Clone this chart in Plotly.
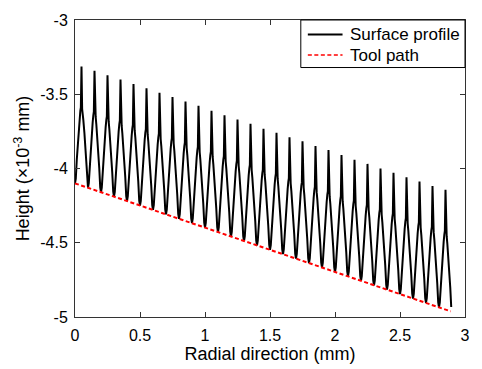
import plotly.graph_objects as go

# ---- data ----
peak_x = [0.05, 0.15, 0.25, 0.35, 0.45, 0.55, 0.65, 0.75, 0.85, 0.95,
          1.05, 1.15, 1.25, 1.35, 1.45, 1.55, 1.65, 1.75, 1.85, 1.95,
          2.05, 2.15, 2.25, 2.35, 2.45, 2.55, 2.65, 2.75, 2.85]
peak_y = [-3.314, -3.342, -3.373, -3.401, -3.431, -3.459, -3.490, -3.518, -3.549, -3.577,
          -3.612, -3.641, -3.671, -3.699, -3.732, -3.760, -3.789, -3.817, -3.848, -3.876,
          -3.910, -3.941, -3.969, -4.000, -4.028, -4.059, -4.087, -4.118, -4.144]
valley_x = [0.0, 0.1, 0.2, 0.3, 0.4, 0.5, 0.6, 0.7, 0.8, 0.9,
            1.0, 1.1, 1.2, 1.3, 1.4, 1.5, 1.6, 1.7, 1.8, 1.9,
            2.0, 2.1, 2.2, 2.3, 2.4, 2.5, 2.6, 2.7, 2.8, 2.9]
valley_y = [-4.100, -4.130, -4.160, -4.189, -4.219, -4.249, -4.279, -4.309, -4.339, -4.368,
            -4.398, -4.428, -4.458, -4.488, -4.518, -4.547, -4.577, -4.607, -4.637, -4.667,
            -4.697, -4.726, -4.756, -4.786, -4.816, -4.846, -4.876, -4.905, -4.935, -4.965]
# shape of one flank of a cusp (fraction of the way from valley to peak)
flank_dx = [0.0, 0.12, 0.27, 0.55, 0.72, 0.82, 0.90, 1.0]
flank_dy = [0.0, 0.04, 0.20, 0.45, 0.56, 0.62, 0.65, 1.0]

tool_x = [0.0, 2.89]
tool_y = [-4.100, -4.962]

x_ticks = [0, 0.5, 1, 1.5, 2, 2.5, 3]
x_ticktext = ["0", "0.5", "1", "1.5", "2", "2.5", "3"]
y_ticks = [-3, -3.5, -4, -4.5, -5]
y_ticktext = ["-3", "-3.5", "-4", "-4.5", "-5"]

series_names = ["Surface profile", "Tool path"]
series_colors = ["black", "#ff0000"]

# ---- build the surface profile polyline ----
prof_x, prof_y = [], []
n = len(peak_x)
for i in range(n):
    x0, y0 = valley_x[i], valley_y[i]
    xp, yp = peak_x[i], peak_y[i]
    x1, y1 = valley_x[i + 1], valley_y[i + 1]
    start = 0 if i == 0 else 1
    for dx, dy in list(zip(flank_dx, flank_dy))[start:]:
        prof_x.append(x0 + dx * (xp - x0))
        prof_y.append(y0 + dy * (yp - y0))
    fall = list(zip(flank_dx, flank_dy))[::-1][1:]
    if i == n - 1:
        fall = fall[:-1]
    for dx, dy in fall:
        prof_x.append(x1 - dx * (x1 - xp))
        prof_y.append(y1 + dy * (yp - y1))

FONT = "Liberation Sans, Arial, sans-serif"
dash = "4px,2.5px"

fig = go.Figure()
fig.add_trace(go.Scatter(x=prof_x, y=prof_y, mode="lines", name=series_names[0],
                         line=dict(color=series_colors[0], width=2)))
fig.add_trace(go.Scatter(x=tool_x, y=tool_y, mode="lines", name=series_names[1],
                         line=dict(color=series_colors[1], width=2, dash=dash)))

axis_common = dict(showline=True, linecolor="#333333", linewidth=1, mirror="ticks",
                   ticks="inside", ticklen=5, tickcolor="#333333", showgrid=False,
                   zeroline=False, tickfont=dict(family=FONT, size=16, color="black"))

fig.update_xaxes(range=[0, 3], tickvals=x_ticks, ticktext=x_ticktext,
                 title=dict(text="Radial direction (mm)", font=dict(family=FONT, size=18, color="black"),
                            standoff=0),
                 ticklabelstandoff=4,
                 **axis_common)
fig.update_yaxes(range=[-5, -3], tickvals=y_ticks, ticktext=y_ticktext,
                 title=dict(text="Height (×10<sup>-3</sup> mm)", font=dict(family=FONT, size=18, color="black"),
                            standoff=5),
                 ticklabelstandoff=3,
                 **axis_common)

# ---- legend box (drawn in paper coordinates) ----
box_x0, box_x1, box_y0, box_y1 = 0.579, 1.0, 0.840, 1.0
sample_x0, sample_x1, text_x = 0.597, 0.686, 0.699
entry_y = [0.951, 0.882]

shapes = [dict(type="rect", xref="paper", yref="paper", x0=box_x0, x1=box_x1, y0=box_y0, y1=box_y1,
               line=dict(color="black", width=1), fillcolor="white", layer="above")]
annotations = []
for name, col, yy, dsh in zip(series_names, series_colors, entry_y, ["solid", dash]):
    shapes.append(dict(type="line", xref="paper", yref="paper", x0=sample_x0, x1=sample_x1,
                       y0=yy, y1=yy, line=dict(color=col, width=2 if dsh == "solid" else 1.6, dash=dsh),
                       layer="above"))
    annotations.append(dict(text=name, xref="paper", yref="paper", x=text_x, y=yy,
                            xanchor="left", yanchor="middle", showarrow=False,
                            font=dict(family=FONT, size=17, color="black")))

fig.update_layout(width=482, height=369, autosize=False,
                  margin=dict(l=75, r=15, t=16, b=47),
                  paper_bgcolor="white", plot_bgcolor="white",
                  showlegend=False, shapes=shapes, annotations=annotations)

fig.write_html("out.html")
